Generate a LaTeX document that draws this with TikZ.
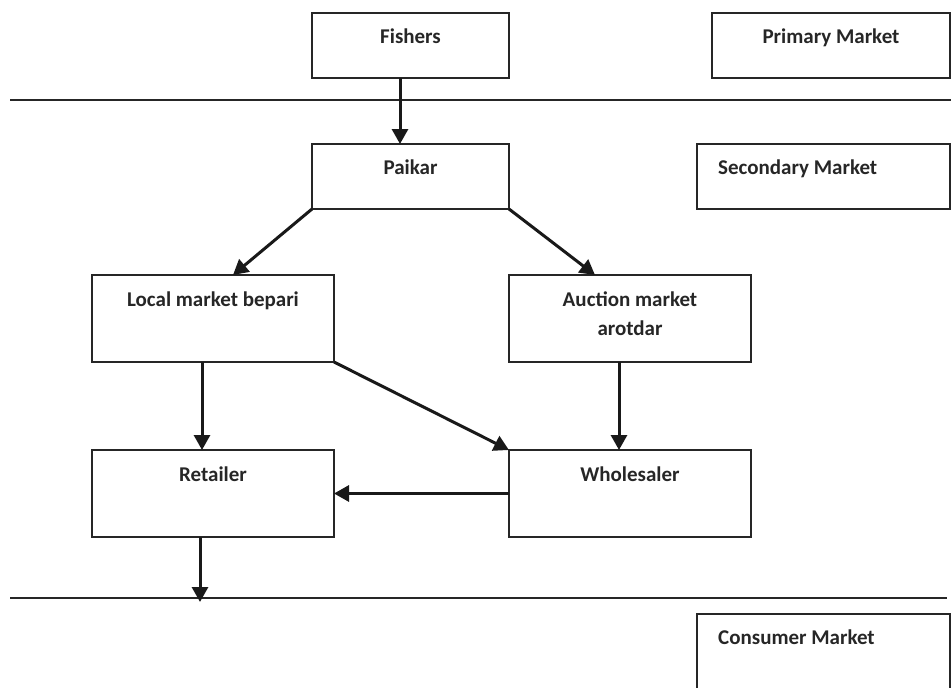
\documentclass[tikz,border=0pt]{standalone}
\usepackage{fontspec}
\newfontfamily\calfont{Carlito}
\usetikzlibrary{arrows.meta}
\begin{document}
\begin{tikzpicture}[x=1pt,y=-1pt,
  box/.style={draw=black!85,line width=1.5pt,inner sep=0pt,outer sep=0pt,anchor=north west},
  txt/.style={inner sep=0pt,font=\calfont\bfseries\fontsize{21}{29.5}\selectfont,text=black!85},
  arr/.style={draw=black!90,line width=3pt,-{Triangle[length=15pt,width=16pt]}},
  divider/.style={draw=black!85,line width=2pt}]
\useasboundingbox (0,0) rectangle (951,688);
\begin{scope}
\clip (0,0) rectangle (951,688);
% boxes
\node[box,minimum width=197pt,minimum height=65pt] (fishers) at (312,13) {};
\node[box,minimum width=238pt,minimum height=65pt] (primary) at (712,13) {};
\node[box,minimum width=197pt,minimum height=65pt] (paikar) at (312,144) {};
\node[box,minimum width=253pt,minimum height=65pt] (secondary) at (697,144) {};
\node[box,minimum width=242pt,minimum height=87pt] (local) at (92,275) {};
\node[box,minimum width=242pt,minimum height=87pt] (auction) at (509,275) {};
\node[box,minimum width=242pt,minimum height=87pt] (retailer) at (92,450) {};
\node[box,minimum width=242pt,minimum height=87pt] (wholesaler) at (509,450) {};
\node[box,minimum width=253pt,minimum height=100pt] (consumer) at (697,614) {};
% texts
\node[txt,anchor=base] (fishers-t) at ([yshift=-30pt]fishers.north) {Fishers};
\node[txt,anchor=base] (primary-t) at ([yshift=-30pt]primary.north) {Primary Market};
\node[txt,anchor=base] (paikar-t) at ([yshift=-30pt]paikar.north) {Paikar};
\node[txt,anchor=base west] (secondary-t) at ([xshift=21pt,yshift=-30pt]secondary.north west) {Secondary Market};
\node[txt,anchor=base] (local-t) at ([yshift=-31pt]local.north) {Local market bepari};
\node[txt,anchor=base] (auction-t1) at ([yshift=-31pt]auction.north) {Auction market};
\node[txt,anchor=base] (auction-t2) at ([yshift=-60pt]auction.north) {arotdar};
\node[txt,anchor=base] (retailer-t) at ([yshift=-31pt]retailer.north) {Retailer};
\node[txt,anchor=base] (wholesaler-t) at ([yshift=-31pt]wholesaler.north) {Wholesaler};
\node[txt,anchor=base west] (consumer-t) at ([xshift=21pt,yshift=-30pt]consumer.north west) {Consumer Market};
% dividers
\coordinate (d1a) at (10,99.5);
\coordinate (d1b) at (951,99.5);
\coordinate (d2a) at (10,598);
\coordinate (d2b) at (947,598);
\draw[divider] (d1a) -- (d1b);
\draw[divider] (d2a) -- (d2b);
\coordinate (consumerin) at (200,602);
% arrows
\draw[arr] ([xshift=-10.5pt]fishers.south) -- ([xshift=-10.5pt]paikar.north);
\draw[arr] (paikar.south west) -- ([xshift=20pt]local.north);
\draw[arr] (paikar.south east) -- ([xshift=-35pt]auction.north);
\draw[arr] ([xshift=-11pt]local.south) -- ([xshift=-11pt]retailer.north);
\draw[arr] ([xshift=-11pt]auction.south) -- ([xshift=-11pt]wholesaler.north);
\draw[arr] (local.south east) -- (wholesaler.north west);
\draw[arr] (wholesaler.west) -- (retailer.east);
\draw[arr] ([xshift=-13pt]retailer.south) -- (consumerin);
\end{scope}
\end{tikzpicture}
\end{document}
